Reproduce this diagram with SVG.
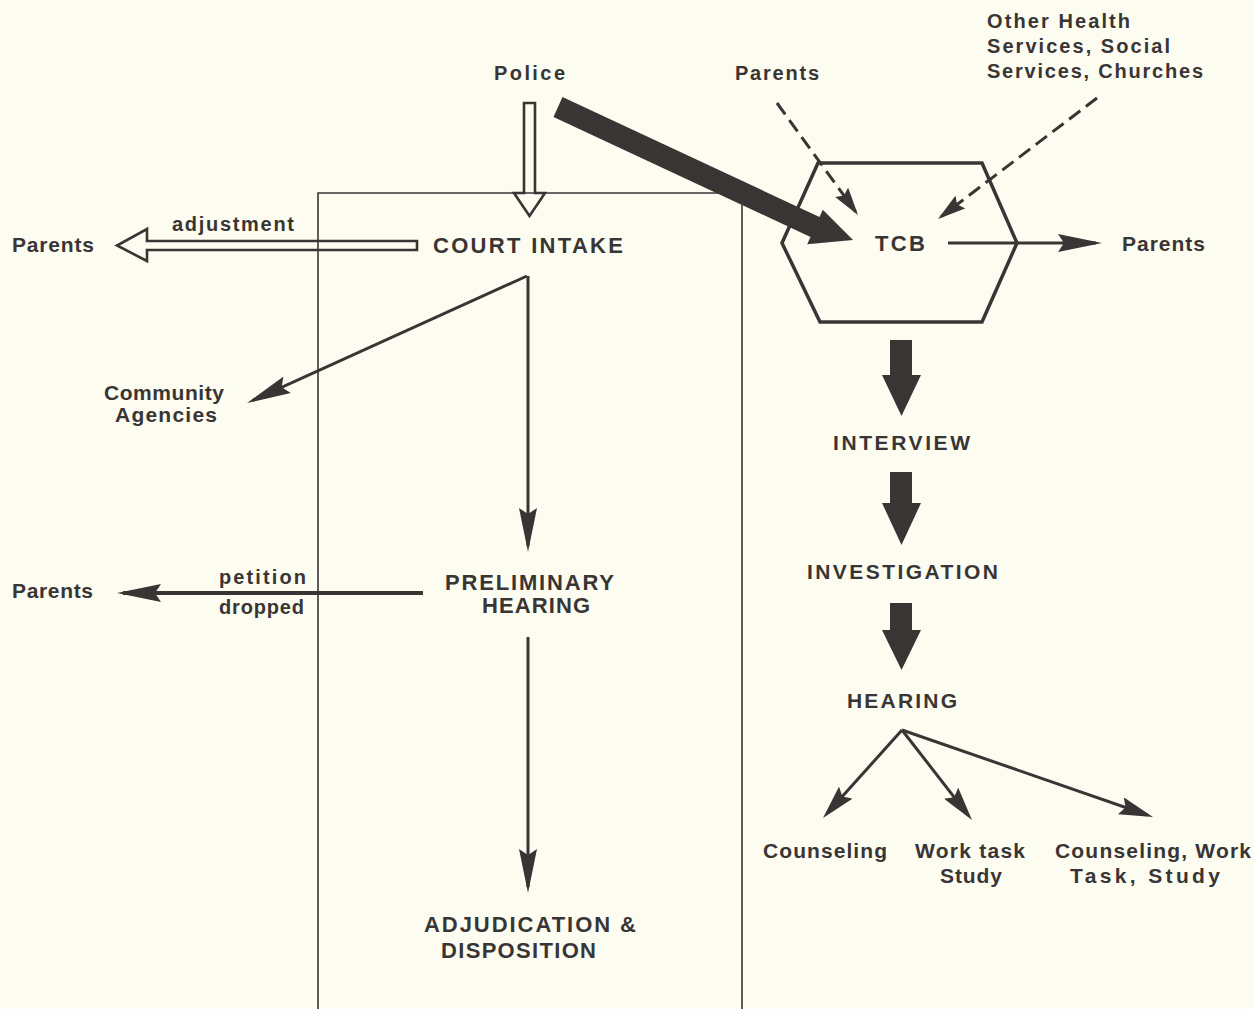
<svg xmlns="http://www.w3.org/2000/svg" width="1254" height="1009" viewBox="0 0 1254 1009">
<defs>
<style>
.t{font-family:"Liberation Sans",Arial,sans-serif;font-weight:bold;fill:#3a3535;font-size:21px}
.s{font-size:20px}
.l{font-size:22px}
.ln{stroke:#3a3535;stroke-width:3;fill:none}
.dl{stroke:#3a3535;stroke-width:3;fill:none;stroke-dasharray:14 7}
.blk{fill:#3a3535}
.hol{fill:none;stroke:#3a3535;stroke-width:2.6;stroke-linejoin:miter}
.box{fill:none;stroke:#3a3535;stroke-width:1.6}
.hex{fill:none;stroke:#3a3535;stroke-width:3.5;stroke-linejoin:miter}
</style>
<marker id="head" viewBox="0 0 44 18" markerWidth="44" markerHeight="18" refX="38" refY="9" markerUnits="userSpaceOnUse" orient="auto">
<path d="M0,0 L44,9 L0,18 L6,9 z" fill="#3a3535"/>
</marker>
<marker id="headS" viewBox="0 0 34 18" markerWidth="34" markerHeight="18" refX="28" refY="9" markerUnits="userSpaceOnUse" orient="auto">
<path d="M0,0 L34,9 L0,18 L5,9 z" fill="#3a3535"/>
</marker>
<marker id="headD" viewBox="0 0 28 16" markerWidth="28" markerHeight="16" refX="24" refY="8" markerUnits="userSpaceOnUse" orient="auto">
<path d="M0,0 L28,8 L0,16 L4,8 z" fill="#3a3535"/>
</marker>
</defs>
<rect width="1254" height="1009" fill="#fcfcf0"/>

<g id="court-box">
<path class="box" d="M318,1012 L318,193 L742,193 L742,1012"/>
</g>

<g id="connectors">
<polygon id="police-to-intake" class="hol" points="524,103 535,103 535,193 545,193 529.5,216 514,193 524,193"/>
<polygon id="adjustment-arrow" class="hol" points="417,241 417,250 147,250 147,261 117,245.5 147,229 147,241"/>
<path class="ln" d="M527,276 L252.5,400.5" marker-end="url(#head)"/>
<path class="ln" d="M528,276 L528,546" marker-end="url(#head)"/>
<path class="ln" d="M528,637 L528,887" marker-end="url(#head)"/>
<path class="ln" style="stroke-width:4" d="M423,593 L123,593" marker-end="url(#head)"/>
<path class="ln" d="M948,243 L1096,243" marker-end="url(#head)"/>
<path class="ln" d="M902,730 L827,813.5" marker-end="url(#headS)"/>
<path class="ln" d="M902,730 L968.3,815.3" marker-end="url(#headS)"/>
<path class="ln" d="M902,730 L1147.3,815" marker-end="url(#headS)"/>
<path class="dl" d="M777,103 L855.7,211.8" marker-end="url(#headD)"/>
<path class="dl" d="M1097,98 L941.2,216.6" marker-end="url(#headD)"/>
<polygon class="blk" points="890,340 912,340 912,375 921,375 901.5,416 882,375 890,375"/>
<polygon class="blk" points="890,472 912,472 912,503 921,503 901.5,545 882,503 890,503"/>
<polygon class="blk" points="890,603 912,603 912,630 921,630 901.5,670 882,630 890,630"/>
</g>

<g id="tcb">
<polygon class="hex" points="818,163 982,163 1017,243 982,322 820,322 782,243"/>
<text class="t l" x="875" y="251" textLength="50" lengthAdjust="spacing">TCB</text>
</g>

<g id="police-to-tcb">
<polygon class="blk" points="562.5,97 819.5,217 822.8,209.7 853,240 807.2,244.3 810.5,237 553.5,117"/>
</g>

<g id="police"><text class="t s" x="494" y="80" textLength="71" lengthAdjust="spacing">Police</text></g>
<g id="parents-top"><text class="t s" x="735" y="80" textLength="84" lengthAdjust="spacing">Parents</text></g>
<g id="other-services">
<text class="t s" x="987" y="28" textLength="143" lengthAdjust="spacing">Other Health</text>
<text class="t s" x="987" y="53" textLength="183" lengthAdjust="spacing">Services, Social</text>
<text class="t s" x="987" y="78" textLength="216" lengthAdjust="spacing">Services, Churches</text>
</g>
<g id="parents-tcb"><text class="t" x="1122" y="251" textLength="83" lengthAdjust="spacing">Parents</text></g>
<g id="court-intake"><text class="t l" x="433" y="253" textLength="190" lengthAdjust="spacing">COURT INTAKE</text></g>
<g id="parents-adjustment"><text class="t" x="12" y="252" textLength="82" lengthAdjust="spacing">Parents</text></g>
<g id="label-adjustment"><text class="t s" x="172" y="231" textLength="122" lengthAdjust="spacing">adjustment</text></g>
<g id="community-agencies">
<text class="t" x="104" y="400" textLength="120" lengthAdjust="spacing">Community</text>
<text class="t" x="115" y="422" textLength="102" lengthAdjust="spacing">Agencies</text>
</g>
<g id="preliminary-hearing">
<text class="t l" x="445" y="590" textLength="169" lengthAdjust="spacing">PRELIMINARY</text>
<text class="t l" x="482" y="613" textLength="108" lengthAdjust="spacing">HEARING</text>
</g>
<g id="label-petition">
<text class="t s" x="219" y="584" textLength="87" lengthAdjust="spacing">petition</text>
<text class="t s" x="219" y="614" textLength="85" lengthAdjust="spacing">dropped</text>
</g>
<g id="parents-petition"><text class="t" x="12" y="598" textLength="81" lengthAdjust="spacing">Parents</text></g>
<g id="adjudication">
<text class="t l" x="424" y="932" textLength="212" lengthAdjust="spacing">ADJUDICATION &amp;</text>
<text class="t l" x="441" y="958" textLength="155" lengthAdjust="spacing">DISPOSITION</text>
</g>
<g id="interview"><text class="t" x="833" y="450" textLength="137" lengthAdjust="spacing">INTERVIEW</text></g>
<g id="investigation"><text class="t" x="807" y="579" textLength="191" lengthAdjust="spacing">INVESTIGATION</text></g>
<g id="hearing"><text class="t" x="847" y="708" textLength="110" lengthAdjust="spacing">HEARING</text></g>
<g id="counseling"><text class="t" x="763" y="858" textLength="124" lengthAdjust="spacing">Counseling</text></g>
<g id="work-task">
<text class="t" x="915" y="858" textLength="110" lengthAdjust="spacing">Work task</text>
<text class="t" x="940" y="883" textLength="62" lengthAdjust="spacing">Study</text>
</g>
<g id="counseling-work">
<text class="t" x="1055" y="858" textLength="196" lengthAdjust="spacing">Counseling, Work</text>
<text class="t" x="1070" y="883" textLength="150" lengthAdjust="spacing">Task, Study</text>
</g>
</svg>
